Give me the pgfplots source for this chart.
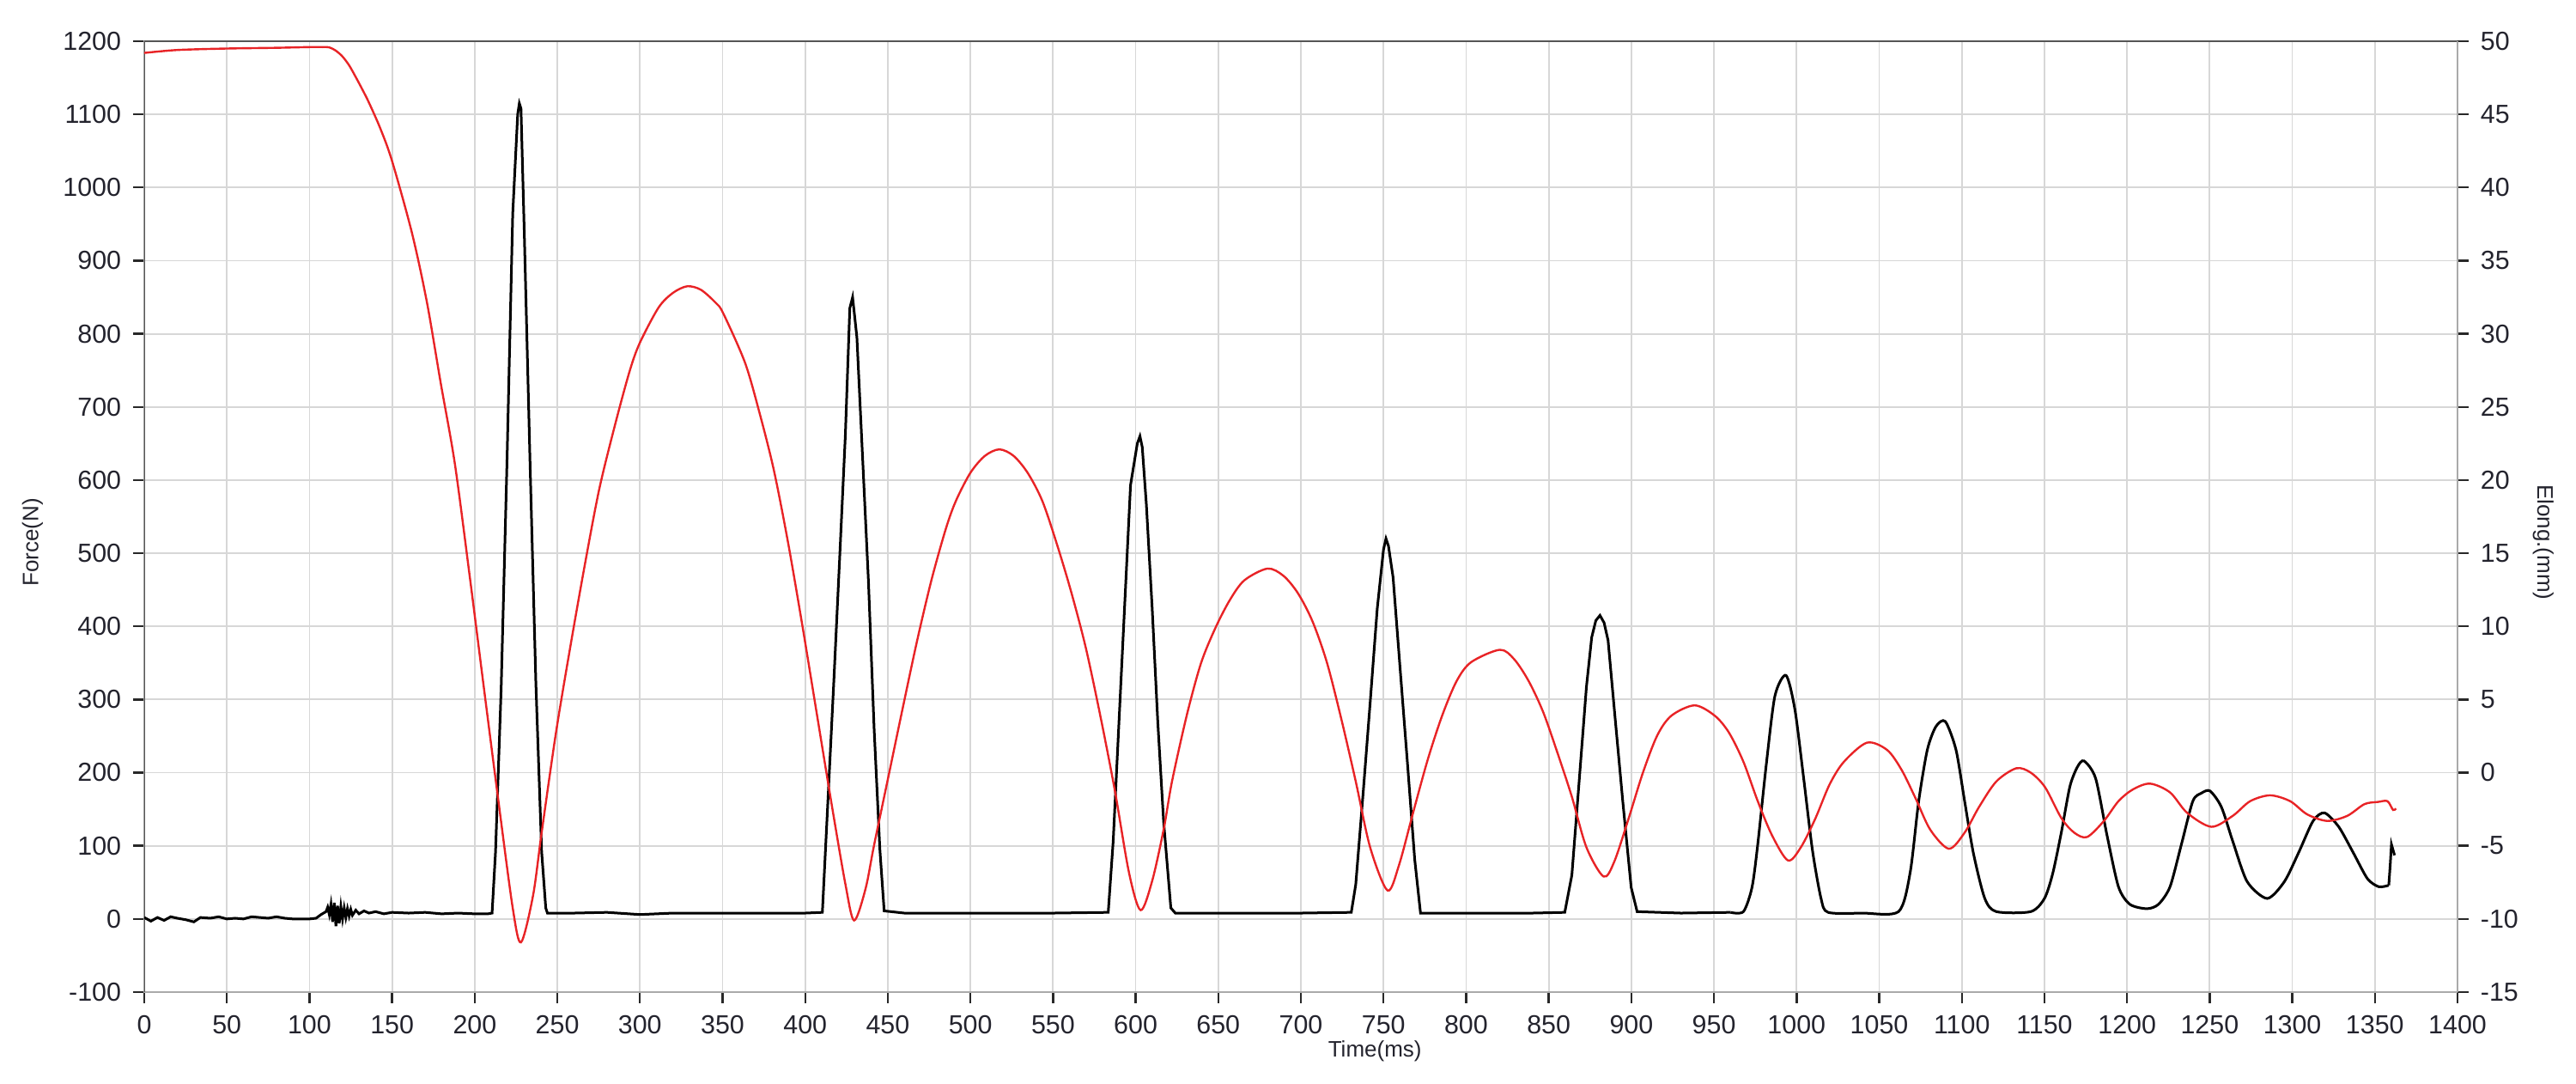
\documentclass[border=0pt]{standalone}
\usepackage{fontspec}
\setmainfont{Liberation Sans}
\usepackage{pgfplots}
\pgfplotsset{compat=1.18}
\definecolor{gridgray}{RGB}{215,215,215}
\definecolor{axdark}{RGB}{85,85,85}
\definecolor{axlight}{RGB}{170,170,170}
\definecolor{tickc}{RGB}{40,40,40}
\definecolor{labc}{RGB}{35,35,45}
\definecolor{redline}{RGB}{232,35,38}
\begin{document}
\begin{tikzpicture}
\begin{axis}[name=main, at={(0,0)}, anchor=south west,
  scale only axis, width=673.5pt, height=276.75pt,
  xmin=0, xmax=1400, ymin=-100, ymax=1200,
  xtick distance=50, ytick distance=100,
  xtick pos=bottom, ytick pos=left,
  grid=major, major grid style={draw=gridgray, line width=0.45pt},
  axis line style={draw=axlight, line width=0.6pt},
  tick align=outside, major tick length=3.2pt,
  tick style={draw=tickc, line width=0.6pt},
  ticklabel style={font=\fontsize{7.6}{9}\selectfont, text=labc},
  /pgf/number format/assume math mode=true,
  /pgf/number format/1000 sep={},
  xlabel={Time(ms)}, ylabel={Force(N)},
  label style={font=\fontsize{6.5}{8}\selectfont, text=labc},
  xlabel style={at={(axis description cs:0.532,-0.0623)}, anchor=center},
  ylabel style={at={(axis description cs:-0.0483,0.473)}, anchor=center},
]
\draw[axdark, line width=0.7pt] (rel axis cs:0,0) -- (rel axis cs:0,1) -- (rel axis cs:1,1);
\addplot[black, line width=0.75pt] coordinates {
(0,2) (4,-3) (8,2) (12,-2) (16,3) (20,1) (25,-1) (30,-4) (34,2) (40,1) (45,3) (50,0) (55,1) (60,0) (65,3) (70,2) (75,1) (80,3) (85,1) (90,0) (95,0) (100,0) (104,1) (107,6) (110,10) (111,16) (112,6) (113,20) (114,-4) (115,22) (116,-10) (117,18) (118,-6) (119,17) (120,0) (121,15) (122,2) (123,14) (124,4) (125,13) (126,5) (128,12) (130,7) (133,11) (136,8) (140,10) (145,7) (150,9) (160,8) (170,9) (180,7) (190,8) (200,7) (208,7)
(210.5,8) (212.6,92) (216,315) (219.5,622) (223,964) (226,1100) (227,1115) (228,1108) (230,938) (233.5,622) (237,323) (240.5,92) (243,15) (244,8)
(260,8) (280,9) (300,6) (320,8) (350,8) (380,8) (400,8)
(410.4,9) (413.9,168) (417.4,328) (420.9,495) (424.3,661) (427,835) (428.7,850) (431.3,795) (434.8,628) (438.3,461) (441.7,261) (445.2,95) (447.8,11)
(460,8) (500,8) (550,8)
(583.4,9) (586.4,106) (589.9,269) (593.4,431) (596.9,593) (601,650) (602.6,660) (604,645) (606.5,566) (610,425) (613.4,269) (616.9,134) (621.3,15) (624,8)
(650,8) (700,8)
(730.5,9) (733.2,47) (737.5,167) (741.9,295) (746.2,424) (750,505) (751.5,520) (753,510) (755.8,467) (760.2,338) (764.6,210) (768.9,81) (772.4,8)
(800,8) (840,8)
(859.7,9) (864,60) (868.4,188) (872.8,317) (876,385) (878.5,408) (881,415) (883.5,405) (885.9,381) (890.2,274) (894.8,161) (899.9,43) (903.5,10)
(930,8) (960,9)
};
\addplot[black, line width=0.75pt, smooth, tension=0.45] coordinates {
(960,9) (967.8,10)
(973,43) (976.5,102) (981.7,212) (986.9,305) (993.6,333) (999,286) (1004.3,192) (1009.6,94) (1014.8,28) (1019.1,9)
(1040,8) (1061.7,10)
(1068.7,63) (1073.9,161) (1079.1,231) (1084.3,263) (1090,270) (1096.5,231) (1101.7,161) (1107,90) (1113.9,28) (1120.9,10)
(1141.7,10) (1150,28) (1155,62) (1160.2,118) (1165.4,181) (1170,208) (1174,216) (1181,192) (1187.9,114) (1194.8,44) (1201.7,20) (1212,14) (1219,20) (1226,44) (1232.9,102) (1239.8,161) (1245,172) (1250.2,175) (1257.1,153) (1264,106) (1272.7,51) (1284.8,28) (1295.2,51) (1303.9,91) (1312.6,134) (1319.5,145) (1328.1,126) (1336.8,91) (1345.5,55) (1352.4,44) (1358.4,46)
};
\addplot[black, line width=0.75pt] coordinates {
(1358.4,46) (1359.3,75) (1360,102) (1361.9,87)
};
\end{axis}
\begin{axis}[at={(0,0)}, anchor=south west,
  scale only axis, width=673.5pt, height=276.75pt,
  xmin=0, xmax=1400, ymin=-15, ymax=50,
  ytick distance=5,
  axis y line*=right, axis x line=none,
  axis line style={draw=axlight, line width=0.6pt},
  tick align=outside, major tick length=3.2pt,
  tick style={draw=tickc, line width=0.6pt},
  ticklabel style={font=\fontsize{7.6}{9}\selectfont, text=labc},
  /pgf/number format/assume math mode=true,
  ylabel={Elong.(mm)},
  label style={font=\fontsize{6.5}{8}\selectfont, text=labc},
  ylabel style={at={(axis description cs:1.0371,0.473)}, anchor=center, rotate=180},
]
\addplot[redline, line width=0.6pt, smooth, tension=0.5] coordinates {
(0,49.2) (20,49.4) (50,49.5) (80,49.55) (100,49.6) (108,49.6) (112,49.58) (116,49.35) (120,48.95) (124,48.35) (128,47.55) (132,46.7) (136,45.8) (143,44.0) (150,41.8) (162,36.9) (171,32.2) (179.4,26.65) (188,21.1) (197,13.4) (205.6,5.75) (214.3,-1.9) (223,-9.25) (228,-11.6) (235.3,-8.4) (240.5,-4.1) (249.2,2.75) (258,8.7) (266.7,14.25) (275.4,19.4) (285.2,23.9) (293.9,27.5) (300,29.4) (311.3,31.8) (320,32.8) (328.7,33.25) (337,33.0) (346,32.1) (350.4,31.4) (363.5,28.05) (372,24.75) (380.9,20.75) (389.6,15.75) (398.3,10.05) (407,4.05) (415.7,-1.95) (424.3,-7.6) (429.6,-10.1) (436.5,-7.95) (441.7,-4.95) (450.4,-0.25) (459,4.4) (467.8,9.05) (476.5,13.2) (485.2,16.7) (491.3,18.6) (500,20.5) (508.7,21.65) (517.5,22.1) (526.2,21.65) (534.9,20.45) (543.6,18.55) (552.4,15.6) (561,12.35) (569.8,8.55) (578.5,3.95) (587.3,-1.15) (596,-6.85) (603,-9.4) (610,-7.4) (617,-3.85) (622,-0.6) (631,3.95) (639.6,7.5) (648.3,9.9) (657,11.8) (665.8,13.15) (679.8,13.95) (689.5,13.45) (698.3,12.25) (707,10.35) (715.7,7.55) (724.4,3.7) (733.2,-0.6) (741.9,-5.1) (752.4,-8.05) (759.3,-6.35) (768,-2.7) (776.8,0.9) (785.5,3.9) (794.2,6.25) (803,7.55) (820.4,8.4) (829.1,7.75) (837.9,6.25) (846.6,4.15) (855.3,1.35) (864,-1.65) (872.8,-5.1) (883.2,-7.1) (889.6,-6.1) (898.3,-3.15) (907,0) (915.7,2.55) (924.3,3.9) (938.3,4.6) (950.4,3.9) (959,2.75) (967.8,0.75) (976.5,-1.95) (985.2,-4.3) (994.8,-6.0) (1002.6,-5.1) (1011.3,-3.15) (1020,-0.8) (1028.7,0.75) (1042.6,2.05) (1054.8,1.55) (1063.5,0.2) (1072,-1.75) (1080.9,-3.9) (1092.2,-5.2) (1101.7,-4.1) (1110.4,-2.35) (1120.9,-0.6) (1133,0.3) (1141.7,0) (1150.4,-1.0) (1160.2,-3.1) (1168,-4.1) (1175.8,-4.4) (1186,-3.3) (1194.8,-1.95) (1203.5,-1.15) (1213.9,-0.75) (1226,-1.35) (1236.4,-2.75) (1251,-3.7) (1264,-2.95) (1274.5,-1.95) (1286.6,-1.55) (1298.7,-1.95) (1309,-2.85) (1321.2,-3.3) (1333.3,-2.95) (1343.7,-2.15) (1352,-2.0) (1357.6,-1.95) (1361,-2.55) (1362.8,-2.45)
};
\end{axis}
\pgfresetboundingbox
\path[use as bounding box] ([shift={(-42pt,-26.75pt)}]main.south west) rectangle ([shift={(34.5pt,12pt)}]main.north east);
\end{tikzpicture}
\end{document}
